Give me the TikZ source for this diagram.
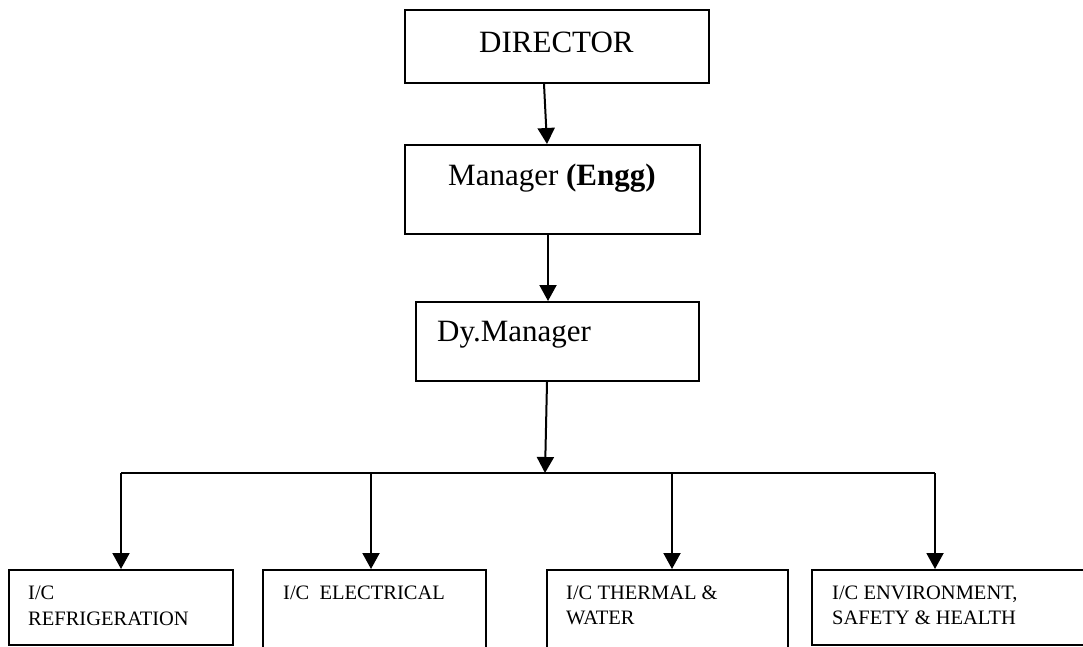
\documentclass[tikz,border=0pt]{standalone}
\usepackage{fontspec}
\setmainfont{Liberation Serif}
\usetikzlibrary{arrows.meta,calc}
\begin{document}
\begin{tikzpicture}[x=1pt,y=-1pt,
  box/.style={draw,line width=2pt,rectangle,inner sep=0pt,anchor=north west},
  big/.style={inner sep=0pt,anchor=base west,font=\fontsize{31}{37}\selectfont},
  small/.style={inner sep=0pt,anchor=base west,font=\fontsize{20.5}{25}\selectfont},
  arr/.style={line width=2pt,-{Triangle[width=17pt,length=16pt]}},
  ln/.style={line width=2pt}]
\useasboundingbox (0,0) rectangle (1083,646);
% boxes
\node[box,minimum width=304pt,minimum height=73pt] (dir) at (404,9) {};
\node[box,minimum width=295pt,minimum height=89pt] (mgr) at (404,144) {};
\node[box,minimum width=283pt,minimum height=79pt] (dy) at (415,301) {};
\node[box,minimum width=224pt,minimum height=75pt] (b1) at (8,569) {};
\node[box,minimum width=223pt,minimum height=131pt] (b2) at (262,569) {};
\node[box,minimum width=241pt,minimum height=131pt] (b3) at (546,569) {};
\node[box,minimum width=289pt,minimum height=75pt] (b4) at (811,569) {};
% texts
\node[big] (tdir) at (479,52) {DIRECTOR};
\node[big] (tmgr) at (448,185) {Manager \textbf{(Engg)}};
\node[big] (tdy) at (437,341) {Dy.Manager};
\node[small] (t1a) at (28,599) {I/C};
\node[small] (t1b) at (28,625) {REFRIGERATION};
\node[small] (t2a) at (283,599) {I/C\ \ ELECTRICAL};
\node[small] (t3a) at (566,599) {I/C THERMAL \&};
\node[small] (t3b) at (566,624) {WATER};
\node[small] (t4a) at (832,599) {I/C ENVIRONMENT,};
\node[small] (t4b) at (832,624) {SAFETY \& HEALTH};
% connectors
\coordinate (bus) at (545,473);
\draw[arr] ($(dir.south west)+(140,0)$) -- ($(mgr.north west)+(143,0)$);
\draw[arr] ($(mgr.south west)+(144,0)$) -- ($(dy.north west)+(133,0)$);
\draw[arr] ($(dy.south west)+(132,0)$) -- (bus);
\draw[ln] (bus -| b1.north) -- (bus -| {$(b4.north west)+(124,0)$});
\draw[arr] (bus -| b1.north) -- (b1.north);
\draw[arr] (bus -| {$(b2.north west)+(109,0)$}) -- ($(b2.north west)+(109,0)$);
\draw[arr] (bus -| {$(b3.north west)+(126,0)$}) -- ($(b3.north west)+(126,0)$);
\draw[arr] (bus -| {$(b4.north west)+(124,0)$}) -- ($(b4.north west)+(124,0)$);
\end{tikzpicture}
\end{document}
